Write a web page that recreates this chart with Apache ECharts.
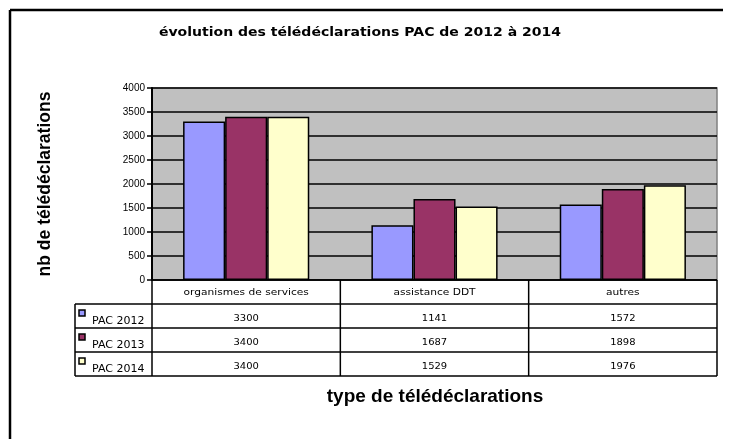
<!DOCTYPE html>
<html><head><meta charset="utf-8">
<script src="https://cdn.jsdelivr.net/npm/echarts@6/dist/echarts.min.js"></script>
<style>html,body{margin:0;padding:0;background:#fff}#c{width:733px;height:439px}</style>
</head><body><div id="c"></div>
<script>
const categories = ['organismes de services', 'assistance DDT', 'autres'];
const seriesNames = ['PAC 2012', 'PAC 2013', 'PAC 2014'];
const pac2012 = [3300, 1141, 1572];
const pac2013 = [3400, 1687, 1898];
const pac2014 = [3400, 1529, 1976];
const yTicks = [0, 500, 1000, 1500, 2000, 2500, 3000, 3500, 4000];
const titleText = 'évolution des télédéclarations PAC de 2012 à 2014';
const colors = ['#9999FF', '#993366', '#FFFFCC'];
const allSeries = [pac2012, pac2013, pac2014];

const chart = echarts.init(document.getElementById('c'));
const GL = 152, GT = 88, GR = 717, GB = 280;
const option = {
  animation: false,
  grid: { left: GL, top: GT, right: 733 - GR, bottom: 439 - GB, show: true,
          backgroundColor: '#C0C0C0', borderColor: '#808080', borderWidth: 1.5 },
  xAxis: {
    type: 'category', data: categories,
    axisLine: { show: false }, axisTick: { show: false }, axisLabel: { show: false }
  },
  yAxis: {
    type: 'value', min: yTicks[0], max: yTicks[yTicks.length - 1], interval: 500,
    axisLine: { show: true, lineStyle: { color: '#000', width: 2 } },
    axisTick: { show: true, length: 5, lineStyle: { color: '#000', width: 1.5 } },
    axisLabel: { color: '#000', fontSize: 10, fontFamily: 'Liberation Sans', margin: 7, formatter: v => String(v) },
    splitLine: { show: true, lineStyle: { color: '#000', width: 1.5 } }
  },
  series: allSeries.map((d, i) => ({
    name: seriesNames[i], type: 'bar', data: d, barGap: '0%', barCategoryGap: '33%',
    itemStyle: { color: colors[i], borderColor: '#000', borderWidth: 1.5 }
  }))
};
chart.setOption(option);

const rowTop = GB, rowH = 24;
const g = [];
const L = (x1, y1, x2, y2, w) => g.push({ type: 'line', shape: { x1, y1, x2, y2 }, style: { stroke: '#000', lineWidth: w || 1.5 }, z: 100 });
const T = (x, y, text, opts, sx) => g.push(Object.assign({ type: 'text', x, y, scaleX: sx || 1.12, style: Object.assign({ text, fill: '#000', font: '9.5px "DejaVu Sans"', textAlign: 'center', textVerticalAlign: 'middle' }, opts || {}), z: 101 }));
const bottomY = rowTop + rowH * 4;
const bounds = [GL];
for (let i = 0; i < categories.length; i++) {
  const c = chart.convertToPixel({ xAxisIndex: 0 }, i);
  const next = i < categories.length - 1 ? chart.convertToPixel({ xAxisIndex: 0 }, i + 1) : null;
  bounds.push(next !== null ? (c + next) / 2 : GR);
}
L(GL, rowTop, GR, rowTop);
for (let r = 1; r <= 4; r++) L(75, rowTop + rowH * r, GR, rowTop + rowH * r);
bounds.forEach(b => L(b, rowTop, b, bottomY));
L(75, rowTop + rowH, 75, bottomY);
categories.forEach((c, i) => {
  const cx = chart.convertToPixel({ xAxisIndex: 0 }, i);
  T(cx, rowTop + rowH / 2 + 1, c);
  allSeries.forEach((d, s) => T(cx, rowTop + rowH * (s + 1) + rowH / 2 + 3, String(d[i]), null, 1.05));
});
seriesNames.forEach((n, s) => {
  const y = rowTop + rowH * (s + 1);
  g.push({ type: 'rect', shape: { x: 79, y: y + 6, width: 6, height: 6 }, style: { fill: colors[s], stroke: '#000', lineWidth: 1.5 }, z: 101 });
  T(92, y + rowH / 2 + 5, n, { textAlign: 'left', font: '10px "DejaVu Sans"' }, 1.1);
});
// frame
L(10, 10, 723, 10, 2.5);
L(10, 10, 10, 439, 2.5);
// title
g.push({ type: 'text', x: 360, y: 33, scaleX: 1.22, style: { text: titleText, font: 'bold 11.5px "DejaVu Sans"', fill: '#000', textAlign: 'center', textVerticalAlign: 'middle' }, z: 101 });
// axis titles
g.push({ type: 'text', x: 45, y: 184, rotation: Math.PI / 2, style: { text: 'nb de télédéclarations', font: 'bold 17.5px "Liberation Sans"', fill: '#000', textAlign: 'center', textVerticalAlign: 'middle' }, z: 101 });
g.push({ type: 'text', x: 435, y: 397, style: { text: 'type de télédéclarations', font: 'bold 19px "Liberation Sans"', fill: '#000', textAlign: 'center', textVerticalAlign: 'middle' }, z: 101 });
chart.setOption({ graphic: g });
</script></body></html>
